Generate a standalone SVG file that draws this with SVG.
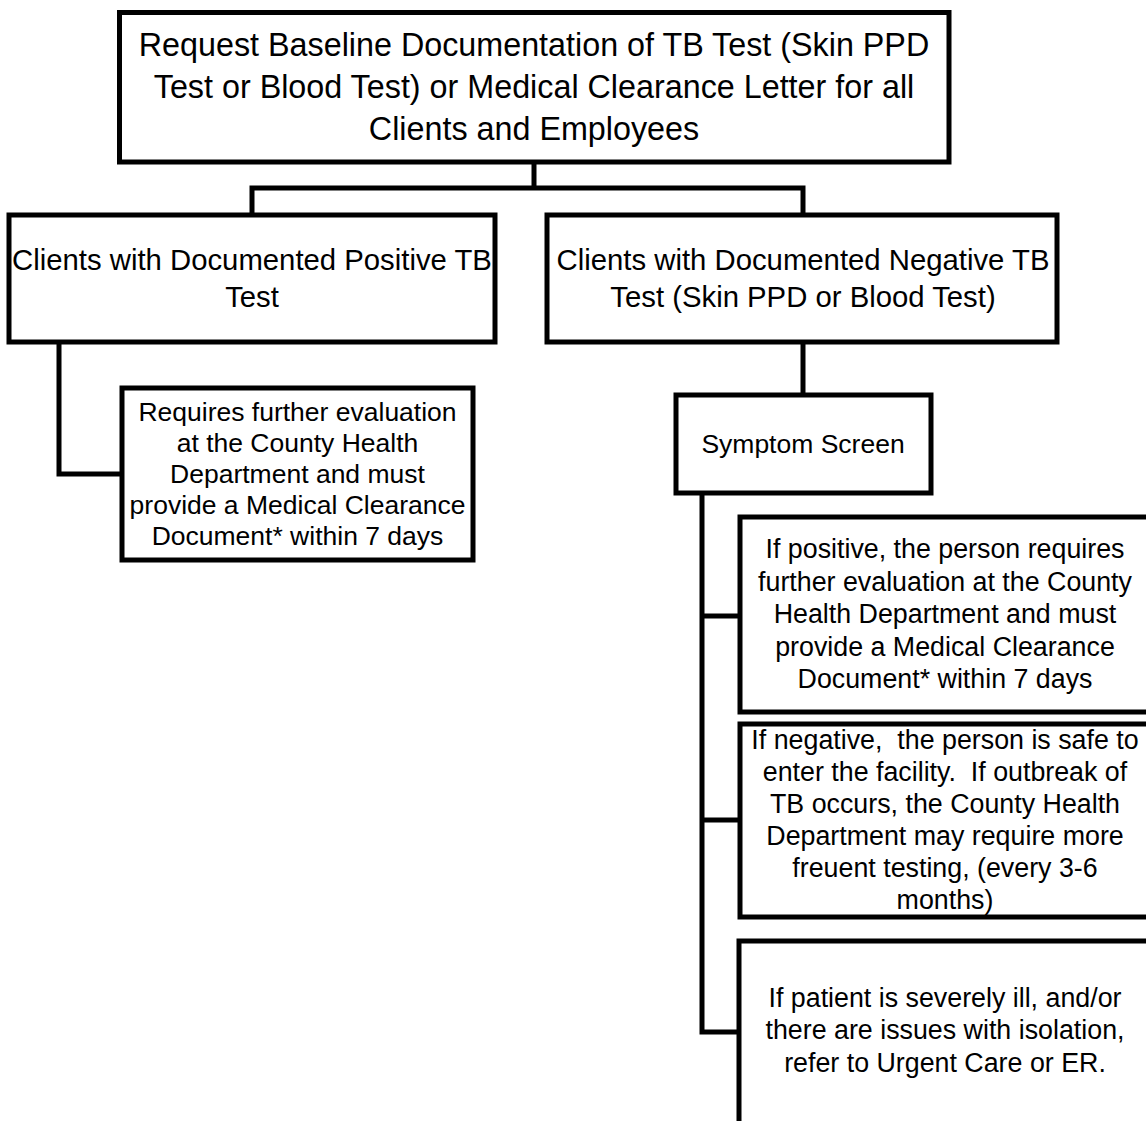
<svg xmlns="http://www.w3.org/2000/svg" width="1146" height="1121" viewBox="0 0 1146 1121">
<style>
.box{fill:#fff;stroke:#000;stroke-width:5}
.con{fill:none;stroke:#000;stroke-width:5;stroke-linejoin:miter;stroke-linecap:square}
text{font-family:"Liberation Sans",Arial,sans-serif;fill:#000;text-anchor:middle}
.t1{font-size:32.3px}
.t2{font-size:29.3px}
.t3{font-size:26.5px}
.t4{font-size:26.8px}
</style>
<rect width="1146" height="1121" fill="#fff"/>
<g id="connectors">
<path class="con" d="M534 162V188M252 215V188H803V215"/>
<path class="con" d="M59 342V474H122"/>
<path class="con" d="M803 342V395"/>
<path class="con" d="M702 493V1032H739M702 616H740M702 820H740"/>
</g>
<g id="n-top">
<rect class="box" x="119.5" y="12.5" width="829.5" height="149.5"/>
<text class="t1" x="534" y="56">Request Baseline Documentation of TB Test (Skin PPD</text>
<text class="t1" x="534" y="98">Test or Blood Test) or Medical Clearance Letter for all</text>
<text class="t1" x="534" y="140">Clients and Employees</text>
</g>
<g id="n-positive">
<rect class="box" x="9" y="215" width="486" height="127"/>
<text class="t2" x="252" y="270">Clients with Documented Positive TB</text>
<text class="t2" x="252" y="307">Test</text>
</g>
<g id="n-negative">
<rect class="box" x="547" y="215" width="510" height="127"/>
<text class="t2" x="803" y="270">Clients with Documented Negative TB</text>
<text class="t2" x="803" y="307">Test (Skin PPD or Blood Test)</text>
</g>
<g id="n-evaluation">
<rect class="box" x="122" y="388" width="351" height="172"/>
<text class="t3" x="297.5" y="421">Requires further evaluation</text>
<text class="t3" x="297.5" y="452">at the County Health</text>
<text class="t3" x="297.5" y="483">Department and must</text>
<text class="t3" x="297.5" y="514">provide a Medical Clearance</text>
<text class="t3" x="297.5" y="545">Document* within 7 days</text>
</g>
<g id="n-symptom">
<rect class="box" x="676" y="395" width="255" height="98"/>
<text class="t3" x="803" y="453">Symptom Screen</text>
</g>
<g id="n-ifpositive">
<rect class="box" x="740" y="517" width="420" height="195"/>
<text class="t4" x="945" y="558">If positive, the person requires</text>
<text class="t4" x="945" y="590.5">further evaluation at the County</text>
<text class="t4" x="945" y="623">Health Department and must</text>
<text class="t4" x="945" y="655.5">provide a Medical Clearance</text>
<text class="t4" x="945" y="688">Document* within 7 days</text>
</g>
<g id="n-ifnegative">
<rect class="box" x="740" y="724" width="420" height="193"/>
<text class="t4" x="945" y="749" xml:space="preserve">If negative,  the person is safe to</text>
<text class="t4" x="945" y="781" xml:space="preserve">enter the facility.  If outbreak of</text>
<text class="t4" x="945" y="813">TB occurs, the County Health</text>
<text class="t4" x="945" y="845">Department may require more</text>
<text class="t4" x="945" y="877">freuent testing, (every 3-6</text>
<text class="t4" x="945" y="909">months)</text>
</g>
<g id="n-severe">
<rect class="box" x="739" y="941" width="420" height="200"/>
<text class="t4" x="945" y="1007">If patient is severely ill, and/or</text>
<text class="t4" x="945" y="1039">there are issues with isolation,</text>
<text class="t4" x="945" y="1072">refer to Urgent Care or ER.</text>
</g>
</svg>
